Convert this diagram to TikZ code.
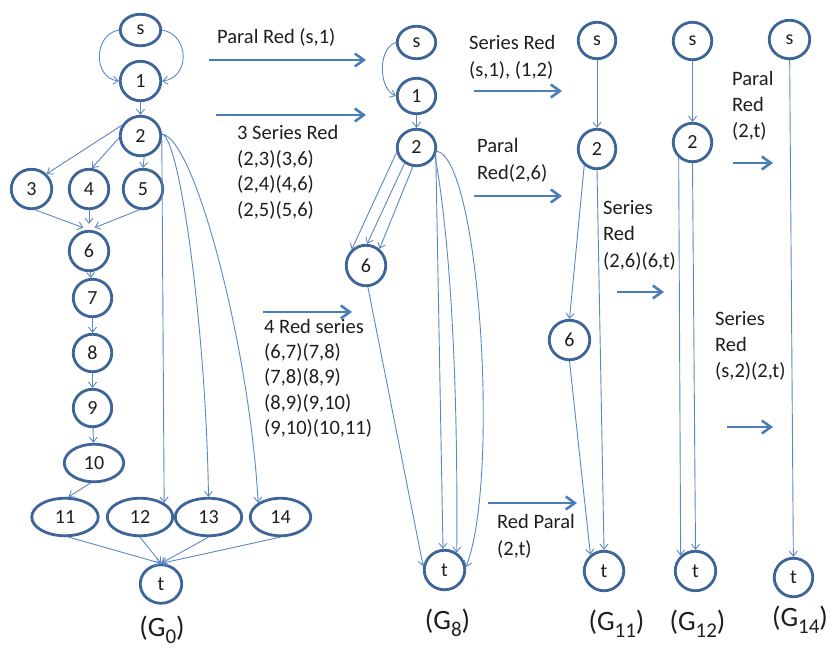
\documentclass[tikz,border=0pt]{standalone}
\usepackage{fontspec}
\setmainfont{Carlito}
\usetikzlibrary{shapes.geometric,arrows.meta,calc}
\definecolor{ndc}{HTML}{3D6599}
\definecolor{edc}{HTML}{5B87C2}
\definecolor{arc}{HTML}{4A7EBB}
\definecolor{txc}{HTML}{1E1E1E}
\newcommand{\gsub}[1]{\raisebox{-7pt}{\fontsize{21}{21}\selectfont #1}}
\tikzset{
  nd/.style={ellipse, draw=ndc, line width=2.8pt, fill=white, inner sep=0pt,
    minimum width=39.5pt, minimum height=39.5pt,
    font=\fontsize{20}{20}\selectfont, text=txc},
  ed/.style={draw=edc, line width=0.9pt, -{Straight Barb[length=5pt,width=8pt]}},
  bigarrow/.style={draw=arc, line width=2.6pt, -{Straight Barb[length=9pt,width=13pt]}},
  lbl/.style={anchor=north west, inner sep=0pt, align=left, text=txc},
  glabel/.style={inner sep=0pt, text=txc, font=\fontsize{28}{28}\selectfont}
}
\begin{document}
\begin{tikzpicture}[x=1pt,y=-1pt]
\useasboundingbox (0,0) rectangle (832,651);

% ---------------- G0 ----------------
\node[nd, minimum width=40.5pt, minimum height=31.5pt] (s0) at (140.5,30) {s};
\node[nd, minimum width=40.5pt] (a1) at (140.5,81) {1};
\node[nd, minimum width=40.5pt] (a2) at (140.5,136) {2};
\node[nd, minimum width=40.5pt] (a3) at (31.5,189) {3};
\node[nd] (a4) at (89,189) {4};
\node[nd] (a5) at (143,189) {5};
\node[nd] (a6) at (89,251) {6};
\node[nd, minimum width=38.5pt, minimum height=37.5pt] (a7) at (92.5,298) {7};
\node[nd, minimum width=38.5pt, minimum height=37.5pt] (a8) at (92.5,353) {8};
\node[nd, minimum width=38.5pt, minimum height=37.5pt] (a9) at (92.5,408) {9};
\node[nd, minimum width=59.5pt, minimum height=37.5pt] (a10) at (94,463) {10};
\node[nd, minimum width=66.5pt, minimum height=37.5pt] (a11) at (65,517) {11};
\node[nd, minimum width=65.5pt, minimum height=37.5pt] (a12) at (140,517) {12};
\node[nd, minimum width=66.5pt, minimum height=37.5pt] (a13) at (208.5,517) {13};
\node[nd, minimum width=60.5pt, minimum height=37.5pt] (a14) at (280.5,517) {14};
\node[nd, minimum width=41.5pt, minimum height=38.5pt] (at) at (161,584) {t};
\node[glabel] (g0) at (162,630) {(G\gsub{0})};

\draw[ed] (s0.west) .. controls (93,35) and (93,78) .. (a1.west);
\draw[ed] (s0.east) .. controls (190,35) and (190,78) .. (a1.east);
\draw[ed] (a1) -- (a2);
\draw[ed] (a2.150) -- (a3.45);
\draw[ed] (a2.185) -- (a4.82);
\draw[ed] (a2.-80) -- (a5.north);
\draw[ed, shorten >=6pt] (a3.-80) -- (a6.north);
\draw[ed, shorten >=6pt] (a4.south) -- (a6.north);
\draw[ed, shorten >=6pt] (a5.-100) -- (a6.north);
\draw[ed] (a6) -- (a7);
\draw[ed] (a7) -- (a8);
\draw[ed] (a8) -- (a9);
\draw[ed] (a9) -- (a10);
\draw[ed] (a10.-100) -- (a11.80);
\draw[ed] (a2.-10) -- (a12.north east);
\draw[ed] (a2.5) .. controls (180,138) and (206,330) .. (a13.north);
\draw[ed] (a2.5) .. controls (195,138) and (250,350) .. (a14.north west);
\draw[ed] (a11.-80) -- (at.north);
\draw[ed] (a12.south) -- (at.north);
\draw[ed] (a13.south) -- (at.north);
\draw[ed] (a14.south) -- (at.north);

% ---------------- G8 ----------------
\node[nd, minimum width=38.5pt, minimum height=32.5pt] (bs) at (416.5,42.5) {s};
\node[nd, minimum width=38.5pt, minimum height=35.5pt] (b1) at (416.5,96) {1};
\node[nd, minimum width=38.5pt, minimum height=36.5pt] (b2) at (416.5,147.5) {2};
\node[nd, minimum width=39.5pt, minimum height=40.5pt] (b6) at (366,265.5) {6};
\node[nd, minimum width=40.5pt, minimum height=39.5pt] (bt) at (444.5,570) {t};
\node[glabel] (g8) at (447.5,623) {(G\gsub{8})};

\draw[ed] (bs.west) .. controls (378,48) and (378,88) .. (b1.west);
\draw[ed] (b1) -- (b2);
\draw[ed] (b2.194) -- (b6.132);
\draw[ed] (b2.233) -- (b6.87);
\draw[ed] (b2.259) -- (b6.51);
\draw[ed] (b6.-85) -- (bt.170);
\draw[ed] (b2.-20) -- ($(bt.north)+(-1.5,0)$);
\draw[ed] (b2.-25) .. controls (452,250) and (458,400) .. (bt.55);
\draw[ed] (b2.-10) .. controls (480,160) and (500,480) .. (bt.8);

% ---------------- G11 ----------------
\node[nd, minimum width=37.5pt, minimum height=36.5pt] (cs) at (597,40.5) {s};
\node[nd, minimum width=37.5pt] (c2) at (597,149) {2};
\node[nd, minimum width=40.5pt] (c6) at (569.5,340) {6};
\node[nd] (ct) at (604,571) {t};
\node[glabel] (g11) at (616.5,624) {(G\gsub{11})};

\draw[ed] (cs) -- (c2);
\draw[ed] (c2.232) -- (c6.north);
\draw[ed] (c2.south) -- (ct.north);
\draw[ed] (c6.south) -- (ct.130);

% ---------------- G12 ----------------
\node[nd, minimum width=38.5pt, minimum height=37.5pt] (ds) at (692.5,41) {s};
\node[nd, minimum width=38.5pt, minimum height=38.5pt] (d2) at (692.5,142.5) {2};
\node[nd, minimum width=40.5pt] (dt) at (695.5,571) {t};
\node[glabel] (g12) at (697.5,624) {(G\gsub{12})};

\draw[ed] (ds) -- (d2);
\draw[ed] (d2.228) -- (dt.134);
\draw[ed] (d2.south) -- (dt.north);

% ---------------- G14 ----------------
\node[nd, minimum width=40.5pt, minimum height=38.5pt] (es) at (789.5,39.5) {s};
\node[nd, minimum width=38.5pt, minimum height=38.5pt] (et) at (793.5,577.5) {t};
\node[glabel] (g14) at (800,620) {(G\gsub{14})};

\draw[ed] (es) -- (et);

% ---------------- transition arrows ----------------
\coordinate (p1a) at (209,60);   \coordinate (p1b) at (366,60);
\coordinate (p2a) at (216,115);  \coordinate (p2b) at (366,115);
\coordinate (p3a) at (263,312);  \coordinate (p3b) at (352,312);
\coordinate (p4a) at (474,91);   \coordinate (p4b) at (562,91);
\coordinate (p5a) at (474,196);  \coordinate (p5b) at (562,196);
\coordinate (p6a) at (617,292);  \coordinate (p6b) at (664,292);
\coordinate (p7a) at (733,163);  \coordinate (p7b) at (773,163);
\coordinate (p8a) at (727,427);  \coordinate (p8b) at (773,427);
\coordinate (p9a) at (488,503);  \coordinate (p9b) at (577,503);
\foreach \i in {1,...,9} { \draw[bigarrow] (p\i a) -- (p\i b); }

% ---------------- labels ----------------
\node[lbl, font=\fontsize{20.5}{25.5}\selectfont] (t1) at (217,28) {Paral Red (s,1)};
\node[lbl, font=\fontsize{20.5}{25.5}\selectfont] (t2) at (237,125.5) {3 Series Red\\(2,3)(3,6)\\(2,4)(4,6)\\(2,5)(5,6)};
\node[lbl, font=\fontsize{20.5}{25.2}\selectfont] (t3) at (264,319) {4 Red series\\(6,7)(7,8)\\(7,8)(8,9)\\(8,9)(9,10)\\(9,10)(10,11)};
\node[lbl, font=\fontsize{20.5}{27}\selectfont] (t4) at (469,35) {Series Red\\(s,1), (1,2)};
\node[lbl, font=\fontsize{20.5}{27}\selectfont] (t5) at (477,138) {Paral\\Red(2,6)};
\node[lbl, font=\fontsize{20.5}{26.5}\selectfont] (t6) at (603,200) {Series\\Red\\(2,6)(6,t)};
\node[lbl, font=\fontsize{20.5}{26}\selectfont] (t7) at (732,71) {Paral\\Red\\(2,t)};
\node[lbl, font=\fontsize{20.5}{26}\selectfont] (t8) at (715,311) {Series\\Red\\(s,2)(2,t)};
\node[lbl, font=\fontsize{20.5}{27}\selectfont] (t9) at (497,514) {Red Paral\\(2,t)};
\end{tikzpicture}
\end{document}
